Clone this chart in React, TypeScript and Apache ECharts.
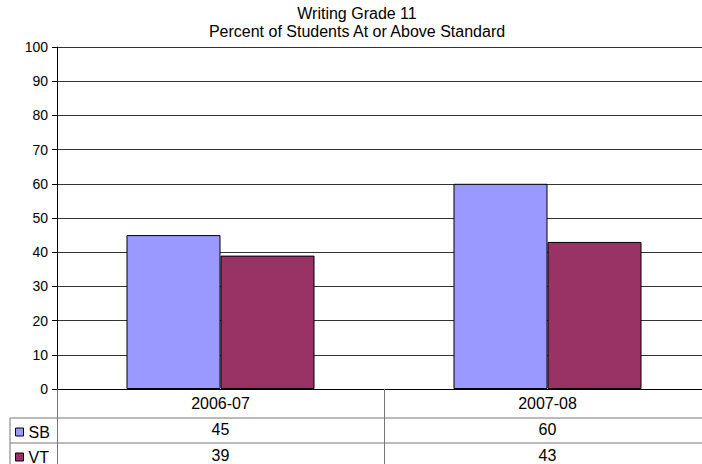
import React, { useEffect, useRef } from "react";
import * as echarts from "echarts";

const titleLines = ["Writing Grade 11", "Percent of Students At or Above Standard"];
const categories = ["2006-07", "2007-08"];
const seriesNames = ["SB", "VT"];
const sbValues = [45, 60];
const vtValues = [39, 43];
const seriesColors = ["#9999FF", "#993366"];
const yMin = 0;
const yMax = 100;
const yInterval = 10;

const FONT = "'Liberation Sans', Arial, sans-serif";

export default function App() {
  const ref = useRef<HTMLDivElement>(null);
  useEffect(() => {
    if (!ref.current) return;
    const chart = echarts.init(ref.current, null, { renderer: "svg" });
    const values = [sbValues, vtValues];
    const legendTops = [424, 449];
    chart.setOption({
      animation: false,
      backgroundColor: "#ffffff",
      textStyle: { fontFamily: FONT },
      title: {
        text: titleLines.join("\n"),
        left: 357,
        textAlign: "center",
        top: 4,
        padding: 0,
        textStyle: {
          fontSize: 16,
          fontWeight: "normal",
          color: "#000",
          lineHeight: 18,
          fontFamily: FONT,
        },
      },
      legend: seriesNames.map((name, k) => ({
        orient: "vertical",
        left: 15,
        top: legendTops[k],
        padding: 0,
        itemWidth: 8,
        itemHeight: 8,
        icon: "rect",
        data: [name],
        textStyle: { fontSize: 16, lineHeight: 16, color: "#000", fontFamily: FONT },
        itemStyle: { borderColor: "#000", borderWidth: 1 },
      })),
      grid: {
        left: 57,
        width: 654,
        top: 47,
        bottom: 75,
        containLabel: false,
        outerBoundsMode: "none",
      },
      xAxis: {
        type: "category",
        data: categories,
        boundaryGap: true,
        axisLine: { show: true, lineStyle: { color: "#000", width: 1 } },
        axisTick: { show: true, length: 80, interval: 0, lineStyle: { color: "#777", width: 1 } },
        axisLabel: {
          interval: 0,
          margin: 1,
          fontSize: 16,
          lineHeight: 26,
          color: "#000",
          fontFamily: FONT,
          formatter: (v: string, i: number) => `${v}\n${sbValues[i]}\n${vtValues[i]}`,
        },
      },
      yAxis: {
        type: "value",
        min: yMin,
        max: yMax,
        interval: yInterval,
        axisLine: { show: true, lineStyle: { color: "#000", width: 1 } },
        axisTick: { show: true, length: 5, lineStyle: { color: "#000" } },
        axisLabel: { fontSize: 14, color: "#000", margin: 9, fontFamily: FONT },
        splitLine: { show: true, lineStyle: { color: "#333", width: 1 } },
      },
      series: seriesNames.map((name, k) => ({
        name,
        type: "bar",
        data: values[k],
        barGap: "0%",
        barCategoryGap: "42.5%",
        itemStyle: { color: seriesColors[k], borderColor: "#000", borderWidth: 1 },
      })),
      graphic: [
        { type: "line", shape: { x1: 10, y1: 418, x2: 702, y2: 418 }, style: { stroke: "#777", lineWidth: 1 } },
        { type: "line", shape: { x1: 10, y1: 443, x2: 702, y2: 443 }, style: { stroke: "#777", lineWidth: 1 } },
        { type: "line", shape: { x1: 10, y1: 418, x2: 10, y2: 464 }, style: { stroke: "#777", lineWidth: 1 } },
      ],
    });
    return () => chart.dispose();
  }, []);
  return (
    <div
      ref={ref}
      style={{ position: "fixed", left: 0, top: 0, width: 702, height: 464 }}
    />
  );
}
